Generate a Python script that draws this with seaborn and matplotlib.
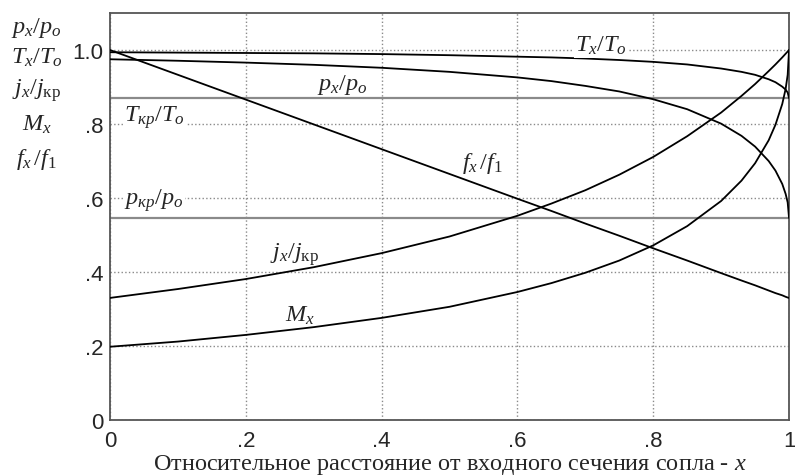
import matplotlib
matplotlib.use('Agg')
import matplotlib.pyplot as plt
import seaborn as sns
import pandas as pd

# relative distance from nozzle inlet
x = [0, 0.1, 0.2, 0.3, 0.4, 0.5, 0.6, 0.65, 0.7, 0.75, 0.8, 0.85, 0.9,
     0.93, 0.95, 0.97, 0.98, 0.99, 0.995, 0.998, 1.0]

# curves
p_ratio = [0.975, 0.971, 0.966, 0.960, 0.952, 0.941, 0.926, 0.916, 0.903, 0.888, 0.867,
           0.840, 0.801, 0.768, 0.739, 0.700, 0.674, 0.638, 0.611, 0.588, 0.546]
T_ratio = [0.994, 0.993, 0.992, 0.991, 0.989, 0.986, 0.982, 0.980, 0.977, 0.973, 0.968,
           0.961, 0.950, 0.941, 0.933, 0.921, 0.913, 0.901, 0.893, 0.885, 0.870]
j_ratio = [0.330, 0.354, 0.381, 0.413, 0.451, 0.496, 0.552, 0.585, 0.621, 0.663, 0.711,
           0.767, 0.831, 0.876, 0.908, 0.943, 0.961, 0.980, 0.990, 0.996, 1.0]
M_x = [0.198, 0.212, 0.230, 0.251, 0.276, 0.306, 0.346, 0.370, 0.398, 0.431, 0.472,
       0.524, 0.592, 0.647, 0.694, 0.756, 0.798, 0.854, 0.895, 0.933, 1.0]
f_ratio = [1.0, 0.933, 0.866, 0.799, 0.732, 0.665, 0.598, 0.565, 0.531, 0.498, 0.464,
           0.431, 0.397, 0.377, 0.364, 0.350, 0.343, 0.337, 0.333, 0.331, 0.330]

T_kr = 0.870   # critical temperature ratio
p_kr = 0.546   # critical pressure ratio

xticks = [0, 0.2, 0.4, 0.6, 0.8, 1.0]
xtick_labels = ['0', '.2', '.4', '.6', '.8', '1']
yticks = [0, 0.2, 0.4, 0.6, 0.8, 1.0]
ytick_labels = ['0', '.2', '.4', '.6', '.8', '1.0']

df = pd.DataFrame({'x': x, 'p': p_ratio, 'T': T_ratio, 'j': j_ratio, 'M': M_x, 'f': f_ratio})

sns.set_style('white')
plt.rcParams['font.family'] = ['Liberation Sans', 'DejaVu Sans']
plt.rcParams['mathtext.fontset'] = 'custom'
plt.rcParams['mathtext.rm'] = 'Liberation Serif'
plt.rcParams['mathtext.it'] = 'Liberation Serif:italic'

fig = plt.figure(figsize=(7.95, 4.77), dpi=100)
ax = fig.add_axes([0.1384, 0.1174, 0.8541, 0.8532])

# critical level lines
ax.axhline(T_kr, color='#8a8a8a', lw=1.6, zorder=2)
ax.axhline(p_kr, color='#8a8a8a', lw=1.6, zorder=2)

for col in ['p', 'T', 'j', 'M', 'f']:
    sns.lineplot(data=df, x='x', y=col, ax=ax, color='black', lw=1.3, zorder=3)

ax.set_xlim(0, 1)
ax.set_ylim(0, 1.1)
ax.set_xticks(xticks)
ax.set_xticklabels(xtick_labels)
ax.set_yticks(yticks)
ax.set_yticklabels(ytick_labels)
ax.tick_params(axis='both', length=0, labelsize=16)
ax.tick_params(axis='x', pad=7)
ax.tick_params(axis='y', pad=5)
ax.grid(True, linestyle=':', color='#8a8a8a', lw=1.0, zorder=1)
ax.set_axisbelow(True)
for s in ax.spines.values():
    s.set_color('#555555')
    s.set_linewidth(1.3)

ax.set_ylabel('')
ax.set_xlabel(r'Относительное расстояние от входного сечения сопла - $x$',
              family='Liberation Serif', fontsize=17.5, labelpad=1)

# curve labels inside the plot
wb = dict(facecolor='white', edgecolor='none', pad=1)
lab = dict(fontsize=17.5, ha='center', va='center', zorder=4)
ax.text(0.723, 1.013, r'$T_x/T_o$', bbox=wb, **lab)
ax.text(0.342, 0.908, r'$p_x/p_o$', **lab)
ax.text(0.548, 0.695, r'$f_x\,/f_1$', **lab)
ax.text(0.271, 0.451, r'$j_x/j_{\mathrm{кр}}$', **lab)
ax.text(0.280, 0.284, r'$M_x$', **lab)
ax.text(0.066, 0.820, r'$T_{кр}/T_o$', bbox=wb, **lab)
ax.text(0.065, 0.595, r'$p_{кр}/p_o$', bbox=wb, **lab)

# stacked legend labels on the left
left = [r'$p_x/p_o$', r'$T_x/T_o$', r'$j_x/j_{\mathrm{кр}}$', r'$M_x$', r'$f_x\,/f_1$']
ys = [0.941, 0.878, 0.811, 0.738, 0.665]
for t, yy in zip(left, ys):
    fig.text(0.046, yy, t, fontsize=17.5, ha='center', va='center')

fig.savefig('out.png', dpi=100)
